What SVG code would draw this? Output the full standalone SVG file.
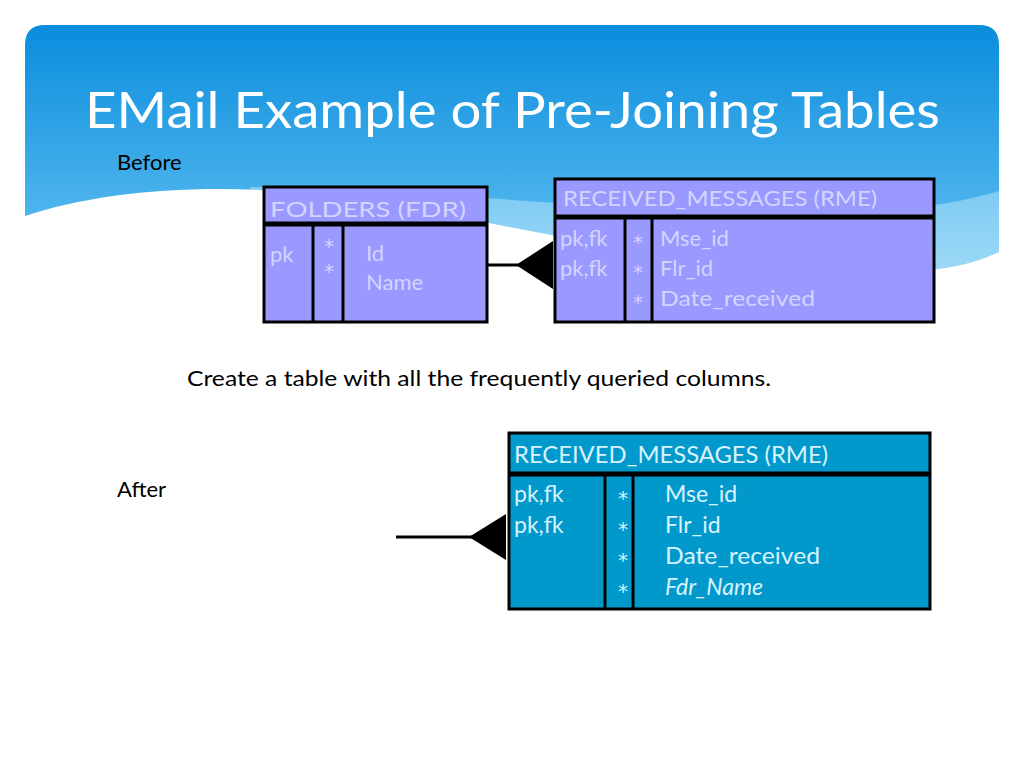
<svg xmlns="http://www.w3.org/2000/svg" width="1024" height="768" viewBox="0 0 1024 768">
<defs>
<linearGradient id="hdr" x1="0" y1="25" x2="0" y2="240" gradientUnits="userSpaceOnUse">
<stop offset="0" stop-color="#0a8ddd"/>
<stop offset="1" stop-color="#58baef"/>
</linearGradient>
<linearGradient id="band" x1="0" y1="190" x2="0" y2="270" gradientUnits="userSpaceOnUse">
<stop offset="0" stop-color="#7ecbf3"/>
<stop offset="1" stop-color="#9cd8f7"/>
</linearGradient>
<style>
.t{font-family:Lato,"Open Sans","Liberation Sans",sans-serif}
.ft{fill:#d4d4ff;font-size:22px}
.at{fill:#d8f3ff;font-size:23px}
.st{font-family:"DejaVu Sans",sans-serif;font-size:20px}
.box{stroke:#000;stroke-width:3}
.pur{fill:#9999ff}
.teal{fill:#0199cc}
.div{stroke:#000;stroke-width:3}
.hb{stroke:#000;stroke-width:5}
.conn{stroke:#000;stroke-width:3;fill:none}
.head{fill:#000}
</style>
</defs>
<rect width="1024" height="768" fill="#fff"/>
<g id="background">
<path d="M25,45 Q25,25 45,25 L979,25 Q999,25 999,45 L999,300 L25,300 Z" fill="url(#hdr)"/>
<path d="M250,187 C450,190 700,220 850,213 C920,210 970,200 999,191 L999,300 L250,300 Z" fill="url(#band)"/>
<path d="M25,216 C120,185 250,180 400,205 C550,236 750,276 900,272 C950,271 980,261 999,252 L999,305 L25,305 Z" fill="#fff"/>
</g>
<g id="texts" class="t">
<text x="85" y="128" font-size="50" fill="#fff" textLength="855" lengthAdjust="spacingAndGlyphs">EMail Example of Pre-Joining Tables</text>
<text x="117" y="170" font-size="22" fill="#000">Before</text>
<text x="187" y="386" font-size="21" fill="#000" textLength="584" lengthAdjust="spacingAndGlyphs">Create a table with all the frequently queried columns.</text>
<text x="117" y="497" font-size="22" fill="#000">After</text>
</g>
<g id="connectors">
<line class="conn" x1="488" y1="265" x2="520" y2="265"/>
<polygon class="head" points="516,265 553,241 553,289"/>
<line class="conn" x1="396" y1="537" x2="472" y2="537"/>
<polygon class="head" points="469,537 506,514 506,560"/>
</g>
<g id="folders">
<rect class="box pur" x="264" y="187" width="223" height="135"/>
<line class="hb" x1="264" y1="224" x2="487" y2="224"/>
<line class="div" x1="313" y1="224" x2="313" y2="322"/>
<line class="div" x1="343" y1="224" x2="343" y2="322"/>
<g class="t ft">
<text x="270" y="217" textLength="196" lengthAdjust="spacingAndGlyphs">FOLDERS (FDR)</text>
<text x="270" y="262">pk</text>
<text class="st"><tspan x="324" y="253">*</tspan><tspan x="324" y="278">*</tspan></text>
<text><tspan x="366" y="261">Id</tspan><tspan x="366" y="290">Name</tspan></text>
</g>
</g>
<g id="rme_before">
<rect class="box pur" x="555" y="179" width="379" height="143"/>
<line class="hb" x1="555" y1="217" x2="934" y2="217"/>
<line class="div" x1="625" y1="217" x2="625" y2="322"/>
<line class="div" x1="652" y1="217" x2="652" y2="322"/>
<g class="t ft">
<text x="563" y="206" textLength="314" lengthAdjust="spacingAndGlyphs">RECEIVED_MESSAGES (RME)</text>
<text><tspan x="560" y="246">pk,fk</tspan><tspan x="560" y="276">pk,fk</tspan></text>
<text class="st"><tspan x="633" y="249">*</tspan><tspan x="633" y="279">*</tspan><tspan x="633" y="309">*</tspan></text>
<text><tspan x="660" y="246">Mse_id</tspan><tspan x="660" y="276">Flr_id</tspan><tspan x="660" y="306" textLength="155" lengthAdjust="spacingAndGlyphs">Date_received</tspan></text>
</g>
</g>
<g id="rme_after">
<rect class="box teal" x="509" y="433" width="421" height="176"/>
<line class="hb" x1="509" y1="474" x2="930" y2="474"/>
<line class="div" x1="605" y1="474" x2="605" y2="609"/>
<line class="div" x1="633" y1="474" x2="633" y2="609"/>
<g class="t at">
<text x="514" y="463" textLength="314" lengthAdjust="spacingAndGlyphs">RECEIVED_MESSAGES (RME)</text>
<text><tspan x="514" y="502">pk,fk</tspan><tspan x="514" y="533">pk,fk</tspan></text>
<text class="st"><tspan x="618" y="505">*</tspan><tspan x="618" y="536">*</tspan><tspan x="618" y="567">*</tspan><tspan x="618" y="598">*</tspan></text>
<text><tspan x="665" y="502">Mse_id</tspan><tspan x="665" y="533">Flr_id</tspan><tspan x="665" y="564" textLength="155" lengthAdjust="spacingAndGlyphs">Date_received</tspan><tspan x="665" y="595" font-style="italic">Fdr_Name</tspan></text>
</g>
</g>
</svg>
